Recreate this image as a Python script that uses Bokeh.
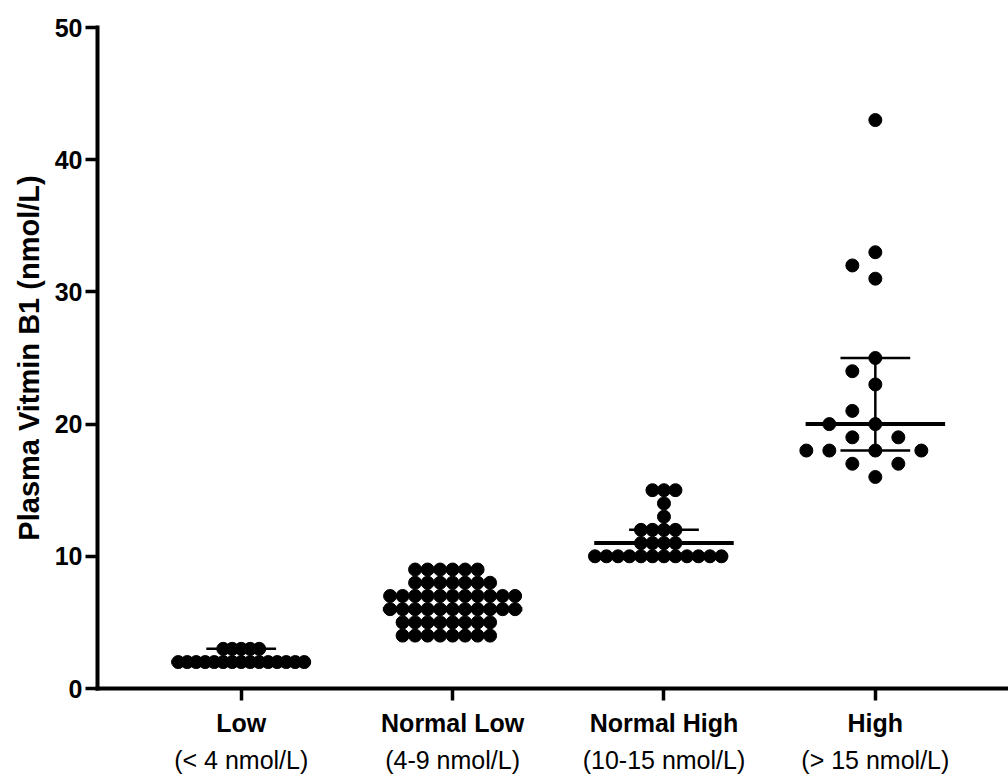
import math
from bokeh.plotting import figure
from bokeh.models import Range1d, FixedTicker, LinearAxis
from bokeh.embed import file_html
from bokeh.resources import INLINE

# ---------------- data ----------------
categories = ["Low", "Normal Low", "Normal High", "High"]
ranges = ["(< 4 nmol/L)", "(4-9 nmol/L)", "(10-15 nmol/L)", "(> 15 nmol/L)"]

low = [2, 2, 2, 2, 2, 2, 2, 2, 2, 2, 2, 2, 2, 2, 2,
       3, 3, 3, 3, 3]
normal_low = [4, 4, 4, 4, 4, 4, 4, 4,
              5, 5, 5, 5, 5, 5, 5, 5,
              6, 6, 6, 6, 6, 6, 6, 6, 6, 6, 6,
              7, 7, 7, 7, 7, 7, 7, 7, 7, 7, 7,
              8, 8, 8, 8, 8, 8, 8,
              9, 9, 9, 9, 9, 9]
normal_high = [10, 10, 10, 10, 10, 10, 10, 10, 10, 10, 10, 10,
               11, 11, 11, 11,
               12, 12, 12, 12,
               13, 14,
               15, 15, 15]
high = [16, 17, 17, 18, 18, 18, 18, 19, 19, 20, 20, 21,
        23, 24, 25, 31, 32, 33, 43]

medians = [2, 6, 11, 20]
q1 = [2, 5, 10, 18]
q3 = [3, 7, 12, 25]

groups = [low, normal_low, normal_high, high]

# ---------------- layout ----------------
W, H = 1008, 778
BL, BR, BT, BB = 97, 0, 27, 90
X0, X1 = -0.68, 3.63
Y0, Y1 = 0, 50
px_x = (W - BL - BR) / (X1 - X0)
px_y = (H - BT - BB) / (Y1 - Y0)
swarm_d = [9.0, 12.5, 11.5, 23.0]   # collision distance in px per group


def swarm(values, d):
    placed = []
    xs, ys = [], []
    step = d / 2.0
    for v in sorted(values):
        y = v * px_y
        cands = [0]
        for i in range(1, 200):
            cands += [-i, i]
        for c in cands:
            x = c * step
            if all(math.hypot(x - a, y - b) >= d - 1e-6 for a, b in placed):
                break
        placed.append((x, y))
        xs.append(x / px_x)
        ys.append(v)
    return xs, ys


p = figure(width=W, height=H, output_backend="svg", toolbar_location=None,
           x_range=Range1d(X0, X1), y_range=Range1d(Y0, Y1),
           min_border_left=BL, min_border_right=BR,
           min_border_top=BT, min_border_bottom=BB)
p.outline_line_color = None
p.xgrid.visible = False
p.ygrid.visible = False
p.background_fill_color = "white"
p.border_fill_color = "white"

# points
px, py = [], []
for gi, vals in enumerate(groups):
    xs, ys = swarm(vals, swarm_d[gi])
    px += [gi + x for x in xs]
    py += ys
p.scatter(x=px, y=py, size=13, color="black", line_color="black")

# median / quartile bars
mx0 = [i - 0.33 for i in range(4)]
mx1 = [i + 0.33 for i in range(4)]
p.segment(x0=mx0, y0=medians, x1=mx1, y1=medians, line_color="black", line_width=4)
qx0 = [i - 0.165 for i in range(4)]
qx1 = [i + 0.165 for i in range(4)]
p.segment(x0=qx0, y0=q1, x1=qx1, y1=q1, line_color="black", line_width=2.5)
p.segment(x0=qx0, y0=q3, x1=qx1, y1=q3, line_color="black", line_width=2.5)
cx = list(range(4))
p.segment(x0=cx, y0=q1, x1=cx, y1=q3, line_color="black", line_width=2.5)

FONT = "Liberation Sans"

# y axis
ya = p.yaxis[0]
ya.ticker = FixedTicker(ticks=[0, 10, 20, 30, 40, 50])
ya.minor_tick_line_color = None
ya.major_tick_in = 0
ya.major_tick_out = 12
ya.major_tick_line_width = 3.5
ya.axis_line_width = 4
ya.axis_line_cap = "square"
ya.major_label_text_font = FONT
ya.major_label_text_font_size = "25px"
ya.major_label_text_font_style = "bold"
ya.major_label_text_color = "black"
ya.major_label_standoff = 3
ya.axis_label = "Plasma Vitmin B1 (nmol/L)"
ya.axis_label_text_font = FONT
ya.axis_label_text_font_size = "29px"
ya.axis_label_text_font_style = "bold"
ya.axis_label_text_color = "black"
ya.axis_label_standoff = 7

# x axis (category names)
xa = p.xaxis[0]
xa.ticker = FixedTicker(ticks=[0, 1, 2, 3])
xa.major_label_overrides = {i: c for i, c in enumerate(categories)}
xa.minor_tick_line_color = None
xa.major_tick_in = 0
xa.major_tick_out = 12
xa.major_tick_line_width = 3.5
xa.axis_line_width = 4
xa.axis_line_cap = "square"
xa.major_label_text_font = FONT
xa.major_label_text_font_size = "25px"
xa.major_label_text_font_style = "bold"
xa.major_label_text_color = "black"
xa.major_label_standoff = 8

# second x axis (ranges)
xb = LinearAxis(ticker=FixedTicker(ticks=[0, 1, 2, 3]),
                major_label_overrides={i: r for i, r in enumerate(ranges)})
xb.axis_line_color = None
xb.major_tick_line_color = None
xb.minor_tick_line_color = None
xb.major_tick_in = 0
xb.major_tick_out = 0
xb.major_label_text_font = FONT
xb.major_label_text_font_size = "25px"
xb.major_label_text_font_style = "normal"
xb.major_label_text_color = "black"
xb.major_label_standoff = 6
p.add_layout(xb, "below")

open("out.html", "w").write(file_html(p, INLINE))
